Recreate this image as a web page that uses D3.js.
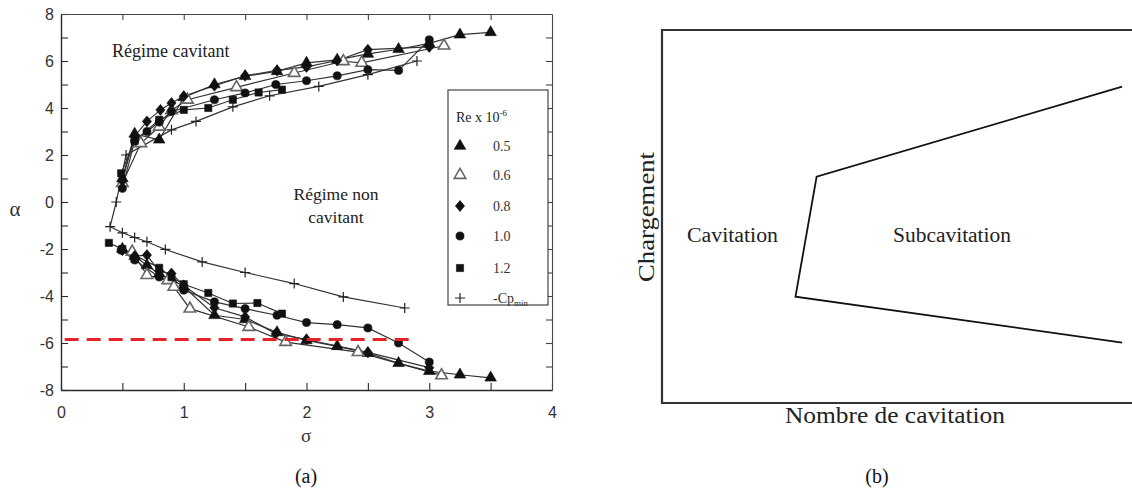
<!DOCTYPE html>
<html>
<head>
<meta charset="utf-8">
<script src="https://cdn.jsdelivr.net/npm/d3@7"></script>
<style>
  html, body { margin: 0; padding: 0; background: #fff; }
  svg { display: block; }
</style>
</head>
<body>
<svg id="chart" width="1132" height="488"></svg>
<script>
// ---------- Data : panel (a), sigma vs alpha ----------
const xTicksA = [0, 1, 2, 3, 4];
const yTicksA = [-8, -6, -4, -2, 0, 2, 4, 6, 8];
const legendLabels = ["0.5", "0.6", "0.8", "1.0", "1.2"];

const re05Up = [[0.5,1.0],[0.6,2.9],[0.8,2.65],[1.0,4.45],[1.25,5.0],[1.5,5.35],[1.76,5.56],[2.0,5.92],[2.25,6.05],[2.5,6.3],[2.75,6.5],[3.0,6.75],[3.25,7.12],[3.5,7.22]];
const re06Up = [[0.5,0.8],[0.65,2.5],[0.8,3.2],[0.9,3.9],[1.03,4.35],[1.43,4.88],[1.9,5.49],[2.3,5.99],[2.45,5.92],[3.12,6.65]];
const re08Up = [[0.5,0.9],[0.6,2.8],[0.7,3.43],[0.81,3.92],[0.9,4.21],[1.0,4.5],[1.25,4.95],[1.5,5.37],[1.76,5.6],[2.0,5.75],[2.25,6.02],[2.5,6.48],[3.0,6.6]];
const re10Up = [[0.5,0.58],[0.6,2.6],[0.7,3.0],[0.8,3.4],[0.9,3.85],[1.25,4.35],[1.5,4.64],[1.75,5.0],[2.0,5.16],[2.25,5.37],[2.5,5.63],[2.75,5.6],[3.0,6.9]];
const re12Up = [[0.49,1.22],[0.6,2.6],[0.8,3.5],[1.0,3.92],[1.2,4.0],[1.4,4.35],[1.61,4.66],[1.8,4.78]];

const re05Lo = [[0.5,-2.0],[0.6,-2.3],[0.7,-2.7],[0.8,-3.05],[0.9,-3.3],[1.0,-3.6],[1.25,-4.82],[1.5,-5.0],[1.76,-5.55],[2.0,-5.89],[2.25,-6.14],[2.5,-6.43],[2.75,-6.86],[3.0,-7.2],[3.25,-7.35],[3.5,-7.48]];
const re06Lo = [[0.58,-2.12],[0.7,-3.11],[0.87,-3.33],[0.92,-3.61],[1.05,-4.54],[1.53,-5.32],[1.83,-5.96],[2.42,-6.39],[3.1,-7.38]];
const re08Lo = [[0.5,-2.05],[0.6,-2.3],[0.7,-2.26],[0.8,-2.95],[0.9,-3.04],[1.0,-3.55],[1.25,-4.5],[1.5,-4.89],[1.75,-5.6],[2.0,-5.85],[2.5,-6.4],[3.0,-7.05]];
const re10Lo = [[0.49,-2.05],[0.6,-2.47],[0.8,-3.19],[1.0,-3.75],[1.25,-4.25],[1.5,-4.54],[1.76,-4.82],[2.0,-5.13],[2.25,-5.22],[2.5,-5.36],[2.75,-6.0],[3.0,-6.81]];
const re12Lo = [[0.39,-1.74],[0.5,-2.0],[0.8,-2.8],[0.9,-3.2],[1.0,-3.5],[1.2,-3.87],[1.4,-4.32],[1.6,-4.3],[1.8,-4.75]];

const cpMin = [[2.9,6.0],[2.5,5.42],[2.1,4.92],[1.7,4.52],[1.4,4.05],[1.1,3.43],[0.9,3.07],[0.53,2.0],[0.45,0.0],[0.4,-1.05],[0.5,-1.31],[0.6,-1.51],[0.7,-1.69],[0.85,-2.02],[1.15,-2.55],[1.5,-3.0],[1.9,-3.47],[2.3,-4.04],[2.8,-4.51]];

const redLimit = [[0.03,-5.85],[2.88,-5.85]];

// ---------- Data : panel (b), schematic ----------
const bBoundary = [[9.79,8.48],[3.29,6.07],[2.84,2.85],[9.79,1.62]];

// ---------- Setup ----------
const svg = d3.select("#chart");
const x = d3.scaleLinear().domain([0,4]).range([61,552]);
const y = d3.scaleLinear().domain([-8,8]).range([390,14]);

const axisColor = "#2a2a2a";
const tickFont = "'Liberation Sans', Arial, sans-serif";
const serif = "'Liberation Serif', 'Times New Roman', serif";

const gA = svg.append("g");

// axes
const axBottom = gA.append("g").attr("transform", `translate(0,${y(-8)})`)
  .call(d3.axisBottom(x).tickValues(d3.range(0, 4.01, 0.5)).tickSizeInner(-7).tickSizeOuter(0).tickPadding(17)
    .tickFormat(d => Number.isInteger(d) ? String(d) : ""));
const axLeft = gA.append("g").attr("transform", `translate(${x(0)},0)`)
  .call(d3.axisLeft(y).tickValues(d3.range(-8, 8.01, 1)).tickSizeInner(-7).tickSizeOuter(0).tickPadding(7)
    .tickFormat(d => yTicksA.includes(d) ? String(d) : ""));
const axTop = gA.append("g").attr("transform", `translate(0,${y(8)})`)
  .call(d3.axisTop(x).tickValues(d3.range(0.5, 4, 0.5)).tickSizeInner(-6).tickSizeOuter(0).tickFormat(""));
const axRight = gA.append("g").attr("transform", `translate(${x(4)},0)`)
  .call(d3.axisRight(y).tickValues(d3.range(-7, 8, 1)).tickSizeInner(-6).tickSizeOuter(0).tickFormat(""));

[axBottom, axLeft, axTop, axRight].forEach(g => {
  g.selectAll("path.domain").attr("stroke", axisColor).attr("stroke-width", 1.4);
  g.selectAll(".tick line").attr("stroke", axisColor).attr("stroke-width", 1.1);
  g.selectAll(".tick text").attr("fill", "#333").style("font-family", tickFont).style("font-size", "16px");
});
axTop.selectAll("path.domain, .tick line").attr("stroke", "#444").attr("stroke-width", 1.1);
axRight.selectAll("path.domain, .tick line").attr("stroke", "#444").attr("stroke-width", 1.1);

// axis titles
gA.append("text").attr("x", 15).attr("y", 216).attr("text-anchor", "middle")
  .style("font-family", serif).style("font-size", "21px").attr("fill", "#333").text("α");
gA.append("text").attr("x", 306).attr("y", 442).attr("text-anchor", "middle")
  .style("font-family", serif).style("font-size", "19px").attr("fill", "#333").text("σ");

// region labels
gA.append("text").attr("x", 112).attr("y", 57)
  .style("font-family", serif).style("font-size", "18px").attr("fill", "#222").text("Régime cavitant");
gA.append("text").attr("x", 336).attr("y", 200).attr("text-anchor", "middle")
  .style("font-family", serif).style("font-size", "17.5px").attr("fill", "#222").text("Régime non");
gA.append("text").attr("x", 336).attr("y", 223).attr("text-anchor", "middle")
  .style("font-family", serif).style("font-size", "17.5px").attr("fill", "#222").text("cavitant");

// series
const line = d3.line().x(d => x(d[0])).y(d => y(d[1]));
const series = [
  {name:"0.5", data:[re05Up, re05Lo], sym:"triFill"},
  {name:"0.6", data:[re06Up, re06Lo], sym:"triOpen"},
  {name:"0.8", data:[re08Up, re08Lo], sym:"diamond"},
  {name:"1.0", data:[re10Up, re10Lo], sym:"circle"},
  {name:"1.2", data:[re12Up, re12Lo], sym:"square"},
  {name:"cp", data:[cpMin], sym:"plus"}
];

const symPath = {
  triFill: d3.symbol().type(d3.symbolTriangle).size(58)(),
  triOpen: d3.symbol().type(d3.symbolTriangle).size(58)(),
  diamond: "M0,-5.5L4.6,0L0,5.5L-4.6,0Z",
  circle: d3.symbol().type(d3.symbolCircle).size(52)(),
  square: d3.symbol().type(d3.symbolSquare).size(52)(),
  plus: "M-5,0H5M0,-5V5"
};
function styleSym(sel, sym) {
  if (sym === "triOpen") sel.attr("fill", "#fff").attr("stroke", "#666").attr("stroke-width", 1.6);
  else if (sym === "plus") sel.attr("fill", "none").attr("stroke", "#222").attr("stroke-width", 1.2);
  else sel.attr("fill", "#111").attr("stroke", "#111").attr("stroke-width", 0.6);
}

const gLines = gA.append("g");
const gMarks = gA.append("g");
series.forEach(s => {
  s.data.forEach(arr => {
    gLines.append("path").datum(arr).attr("d", line)
      .attr("fill", "none").attr("stroke", "#333").attr("stroke-width", 1.2);
  });
});
series.forEach(s => {
  s.data.forEach(arr => {
    const m = gMarks.selectAll(null).data(arr).enter().append("path")
      .attr("transform", d => `translate(${x(d[0])},${y(d[1])})`)
      .attr("d", symPath[s.sym]);
    styleSym(m, s.sym);
  });
});

// red dashed limit
gA.append("path").datum(redLimit).attr("d", line)
  .attr("fill", "none").attr("stroke", "#e8222a").attr("stroke-width", 3)
  .attr("stroke-dasharray", "14,8");

// legend
const lg = gA.append("g");
lg.append("rect").attr("x", 448).attr("y", 90).attr("width", 100).attr("height", 215)
  .attr("fill", "#fff").attr("stroke", "#333").attr("stroke-width", 1.1);
const lt = lg.append("text").attr("x", 456).attr("y", 122)
  .style("font-family", serif).style("font-size", "14px").attr("fill", "#222");
lt.append("tspan").text("Re x 10");
lt.append("tspan").attr("dy", -6).style("font-size", "9px").text("-6");
const rowY = [146, 175, 206, 236, 268, 298];
series.forEach((s, i) => {
  const p = lg.append("path").attr("transform", `translate(460,${rowY[i]})`).attr("d", symPath[s.sym]);
  styleSym(p, s.sym);
  const t = lg.append("text").attr("x", 493).attr("y", rowY[i] + 5)
    .style("font-family", serif).style("font-size", "14px").attr("fill", "#333");
  if (s.sym === "plus") {
    t.append("tspan").text("-Cp");
    t.append("tspan").attr("dy", 3).style("font-size", "9px").text("min");
  } else {
    t.text(legendLabels[i]);
  }
});

// panel caption
svg.append("text").attr("x", 306).attr("y", 483).attr("text-anchor", "middle")
  .style("font-family", serif).style("font-size", "20px").attr("fill", "#111").text("(a)");

// ---------- Panel (b) ----------
const xB = d3.scaleLinear().domain([0,10]).range([662,1132]);
const yB = d3.scaleLinear().domain([0,10]).range([403,30]);
const gB = svg.append("g");
const frame = [[10.2,10],[0,10],[0,0],[10.2,0]];
const lineB = d3.line().x(d => xB(d[0])).y(d => yB(d[1]));
gB.append("path").datum(frame).attr("d", lineB)
  .attr("fill", "none").attr("stroke", "#333").attr("stroke-width", 2.2);
gB.append("path").datum(bBoundary).attr("d", lineB)
  .attr("fill", "none").attr("stroke", "#111").attr("stroke-width", 1.8);

gB.append("text").attr("transform", "translate(654,217) rotate(-90)").attr("text-anchor", "middle")
  .attr("textLength", 130).attr("lengthAdjust", "spacingAndGlyphs")
  .style("font-family", serif).style("font-size", "24px").attr("fill", "#222").text("Chargement");
gB.append("text").attr("x", 687).attr("y", 242)
  .attr("textLength", 91).attr("lengthAdjust", "spacingAndGlyphs")
  .style("font-family", serif).style("font-size", "20px").attr("fill", "#222").text("Cavitation");
gB.append("text").attr("x", 893).attr("y", 242)
  .attr("textLength", 118).attr("lengthAdjust", "spacingAndGlyphs")
  .style("font-family", serif).style("font-size", "20px").attr("fill", "#222").text("Subcavitation");
gB.append("text").attr("x", 785).attr("y", 423)
  .attr("textLength", 220).attr("lengthAdjust", "spacingAndGlyphs")
  .style("font-family", serif).style("font-size", "24px").attr("fill", "#222").text("Nombre de cavitation");
svg.append("text").attr("x", 877).attr("y", 483).attr("text-anchor", "middle")
  .style("font-family", serif).style("font-size", "20px").attr("fill", "#111").text("(b)");
</script>
</body>
</html>
